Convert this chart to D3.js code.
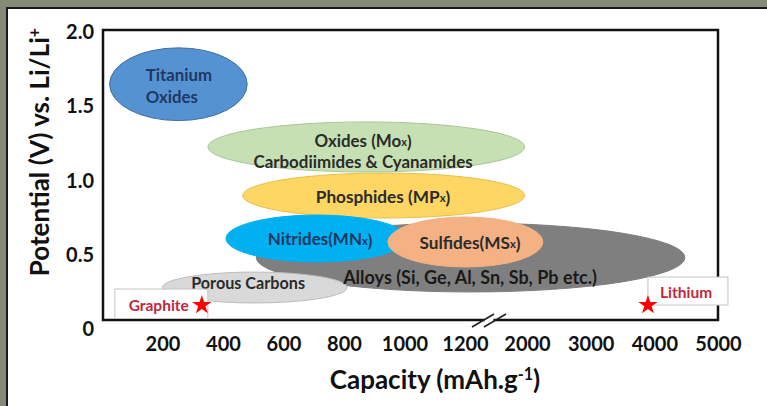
<!DOCTYPE html>
<html>
<head>
<meta charset="utf-8">
<script src="https://cdn.jsdelivr.net/npm/d3@7/dist/d3.min.js"></script>
<style>
  html, body { margin: 0; padding: 0; background: #858a77; }
  svg { display: block; }
  text { font-family: Lato, "Open Sans", sans-serif; font-weight: 700; }
</style>
</head>
<body>
<svg id="chart" width="767" height="406"></svg>
<script>
// ---------- data ----------
const materials = ["Titanium Oxides", "Oxides", "Phosphides", "Alloys", "Porous Carbons", "Nitrides", "Sulfides"];
const labels = [
  ["Titanium", "Oxides"],
  ["Oxides (Mo_x)", "Carbodiimides & Cyanamides"],
  ["Phosphides (MP_x)"],
  ["Alloys (Si, Ge, Al, Sn, Sb, Pb etc.)"],
  ["Porous Carbons"],
  ["Nitrides(MN_x)"],
  ["Sulfides(MS_x)"]
];
const capMin = [25, 350, 465, 510, 200, 410, 945];      // mAh/g
const capMax = [480, 1970, 1970, 4480, 810, 1010, 2250];
const potMin = [1.40, 1.054, 0.744, 0.246, 0.172, 0.448, 0.414]; // V vs Li/Li+
const potMax = [1.89, 1.391, 1.047, 0.710, 0.380, 0.764, 0.751];
const labelCap = [254, 863, 929, 1265, 483, 721, 1265];
const labelPot = [1.64, 1.20, 0.895, 0.348, 0.314, 0.61, 0.585];
const labelSize = [16.8, 16.9, 17.2, 18, 16.2, 17, 17.2];
const fills = ["#5592d2", "#c6e0b4", "#fdd663", "#7f7f7f", "#d9d9d9", "#00b0f0", "#f4b183"];
const strokes = ["#41719c", "#a9c59a", "#e8bf4a", "#7f7f7f", "#bdbdbd", "#00b0f0", "#f4b183"];
const textColors = ["#1f3864", "#2b2b2b", "#2b2b2b", "#1a1a1a", "#2b2b2b", "#1f3864", "#2b2b2b"];

const refNames = ["Graphite", "Lithium"];
const refCap = [330, 3900];
const refPot = [0.158, 0.158];

const xTicks = [200, 400, 600, 800, 1000, 1200, 2000, 3000, 4000, 5000];
const yTicks = [0, 0.5, 1.0, 1.5, 2.0];
const yTickLabels = ["0", "0.5", "1.0", "1.5", "2.0"];

// ---------- layout ----------
const svg = d3.select("#chart");
const frame = { left: 103, right: 718, top: 30, bottom: 320 };

// broken x axis: 0–1200 linear, gap, 2000–5000 linear
const x = d3.scaleLinear().domain([0, 1200, 2000, 5000]).range([102, 465, 527, 718]);
const y = d3.scaleLinear().domain([0, 2]).range([328.5, 31.5]);

// page panel
svg.append("rect").attr("x", 0).attr("y", 0).attr("width", 767).attr("height", 406).attr("fill", "#858a77");
svg.append("rect").attr("x", 6).attr("y", 7).attr("width", 761).attr("height", 399).attr("fill", "#1a1a1a");
svg.append("rect").attr("x", 8).attr("y", 9).attr("width", 759).attr("height", 397).attr("fill", "#ffffff");

// ---------- ellipses ----------
const g = svg.append("g");
const idx = d3.range(materials.length);
g.selectAll("ellipse").data(idx).join("ellipse")
  .attr("cx", i => (x(capMin[i]) + x(capMax[i])) / 2)
  .attr("cy", i => (y(potMin[i]) + y(potMax[i])) / 2)
  .attr("rx", i => Math.abs(x(capMax[i]) - x(capMin[i])) / 2)
  .attr("ry", i => Math.abs(y(potMax[i]) - y(potMin[i])) / 2)
  .attr("fill", i => fills[i])
  .attr("stroke", i => strokes[i])
  .attr("stroke-width", 1);

function addRich(sel, str) {
  const parts = str.split(/_(\w)/);
  parts.forEach((p, k) => {
    if (k % 2 === 0) { if (p) sel.append("tspan").text(p); }
    else {
      sel.append("tspan").attr("font-size", "0.65em").attr("dy", "0.15em").text(p);
      sel.append("tspan").attr("dy", "-0.15em").text("");
    }
  });
}

const lineH = 21.5;
idx.forEach(i => {
  const cx = x(labelCap[i]);
  const cy = y(labelPot[i]);
  const lines = labels[i];
  const leftAlign = i === 0;
  const texts = lines.map((ln, k) => {
    const t = g.append("text")
      .attr("x", cx)
      .attr("y", cy + (k - (lines.length - 1) / 2) * lineH)
      .attr("dominant-baseline", "central")
      .attr("text-anchor", leftAlign ? "start" : "middle")
      .attr("font-size", labelSize[i])
      .attr("fill", textColors[i]);
    addRich(t, ln);
    return t;
  });
  if (leftAlign) {
    const w = d3.max(texts, t => t.node().getComputedTextLength());
    texts.forEach(t => t.attr("x", cx - w / 2));
  }
});

// ---------- frame ----------
svg.append("path")
  .attr("d", `M${frame.left},${frame.top}H${frame.right}V${frame.bottom}H${frame.left}Z`)
  .attr("fill", "none").attr("stroke", "#111").attr("stroke-width", 2.5);

// axis break marks
const bx = x(1200) + 24, by = frame.bottom;
svg.append("circle").attr("cx", bx).attr("cy", by).attr("r", 4.5).attr("fill", "#fff");
[-6, 6].forEach(o => {
  svg.append("line")
    .attr("x1", bx + o - 11).attr("y1", by + 7)
    .attr("x2", bx + o + 11).attr("y2", by - 6)
    .attr("stroke", "#222").attr("stroke-width", 1.6);
});

// ---------- reference points ----------
refNames.forEach((name, i) => {
  const sx = x(refCap[i]), sy = y(refPot[i]);
  if (i === 0) {
    svg.append("rect").attr("x", sx - 87).attr("y", sy - 16).attr("width", 93).attr("height", frame.bottom - 1.5 - (sy - 16))
      .attr("fill", "#fff").attr("stroke", "#c4c4c4").attr("stroke-width", 1);
    svg.append("text").attr("x", sx - 13).attr("y", sy).attr("dominant-baseline", "central")
      .attr("text-anchor", "end").attr("font-size", 15.5).attr("fill", "#c0263c").text(name);
  } else {
    svg.append("rect").attr("x", sx).attr("y", sy - 28).attr("width", 80).attr("height", 28)
      .attr("fill", "#fff").attr("stroke", "#c4c4c4").attr("stroke-width", 1);
    svg.append("text").attr("x", sx + 12).attr("y", sy - 13).attr("dominant-baseline", "central")
      .attr("text-anchor", "start").attr("font-size", 15.5).attr("fill", "#c0263c").text(name);
  }
  svg.append("path")
    .attr("transform", `translate(${sx},${sy})`)
    .attr("d", d3.symbol().type(d3.symbolStar).size(115)())
    .attr("fill", "#ff0000");
});

// ---------- axes ----------
const xAxis = d3.axisBottom(x).tickValues(xTicks).tickSize(0).tickPadding(0).tickFormat(d3.format("d"));
const xg = svg.append("g").attr("transform", `translate(0,351)`).call(xAxis);
xg.select(".domain").remove();
xg.selectAll("text").attr("font-size", 20).attr("fill", "#111").attr("dy", 0)
  .attr("font-family", "Lato, sans-serif").attr("font-weight", 700);

const yAxis = d3.axisLeft(y).tickValues(yTicks).tickSize(0).tickPadding(0)
  .tickFormat((d, i) => yTickLabels[i]);
const yg = svg.append("g").attr("transform", `translate(94,0)`).call(yAxis);
yg.select(".domain").remove();
yg.selectAll("text").attr("font-size", 20).attr("fill", "#111").attr("dy", "0.35em")
  .attr("font-family", "Lato, sans-serif").attr("font-weight", 700);

// axis titles
const xt = svg.append("text").attr("x", 435).attr("y", 389).attr("text-anchor", "middle")
  .attr("font-size", 26).attr("fill", "#111");
xt.append("tspan").text("Capacity (mAh.g");
xt.append("tspan").attr("font-size", "0.62em").attr("dy", "-0.55em").text("-1");
xt.append("tspan").attr("dy", "0.34em").text(")");

const yt = svg.append("text").attr("transform", "translate(49,152) rotate(-90)").attr("text-anchor", "middle")
  .attr("font-size", 26).attr("fill", "#111");
yt.append("tspan").text("Potential (V) vs. Li/Li");
yt.append("tspan").attr("font-size", "0.62em").attr("dy", "-0.55em").text("+");
</script>
</body>
</html>
